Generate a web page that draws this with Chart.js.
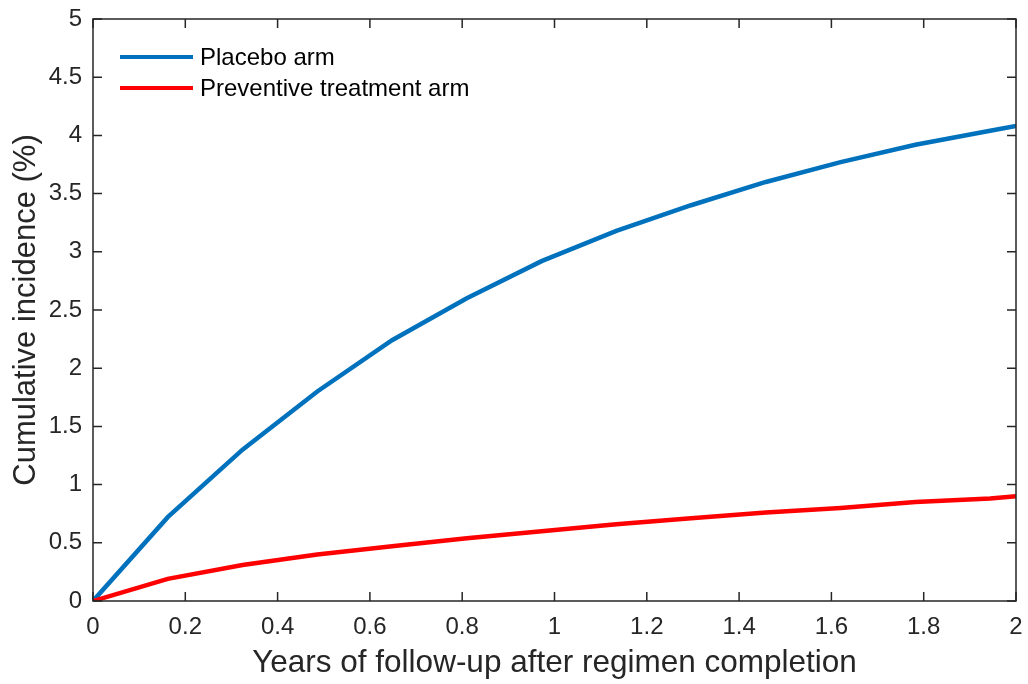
<!DOCTYPE html>
<html>
<head>
<meta charset="utf-8">
<script src="https://cdn.jsdelivr.net/npm/chart.js@4.4.1/dist/chart.umd.min.js"></script>
<style>
html,body{margin:0;padding:0;background:#fff;}
#wrap{width:1028px;height:684px;}
</style>
</head>
<body>
<div id="wrap"><canvas id="c" width="1028" height="684"></canvas></div>
<script>
const years = [0, 0.162, 0.324, 0.486, 0.648, 0.81, 0.972, 1.134, 1.296, 1.458, 1.62, 1.782, 1.944, 2.0];
const placebo = [0, 0.72, 1.30, 1.80, 2.24, 2.60, 2.92, 3.18, 3.40, 3.60, 3.77, 3.92, 4.04, 4.08];
const preventive = [0, 0.19, 0.31, 0.40, 0.47, 0.54, 0.60, 0.66, 0.71, 0.76, 0.80, 0.85, 0.88, 0.90];
const seriesLabels = ['Placebo arm', 'Preventive treatment arm'];
const seriesColors = ['#0072BD', '#FF0000'];
const xTitle = 'Years of follow-up after regimen completion';
const yTitle = 'Cumulative incidence (%)';

const AX = '#262626';
const FONT = 'Liberation Sans, Arial, Helvetica, sans-serif';

function pts(ys){ return years.map((x,i)=>({x:x,y:ys[i]})); }
function fmt(v){ return String(Number(v.toFixed(1))); }

const framePlugin = {
  id: 'frame',
  afterDatasetsDraw(chart){
    const ctx = chart.ctx, a = chart.chartArea;
    const xs = chart.scales.x, ys = chart.scales.y;
    ctx.save();
    ctx.strokeStyle = AX;
    ctx.lineWidth = 1.5;
    ctx.beginPath();
    ctx.rect(a.left, a.top, a.right - a.left, a.bottom - a.top);
    ctx.stroke();
    const tl = 9;
    ctx.lineWidth = 1.5;
    ctx.beginPath();
    xs.ticks.forEach(t=>{
      const px = xs.getPixelForValue(t.value);
      ctx.moveTo(px, a.bottom); ctx.lineTo(px, a.bottom - tl);
      ctx.moveTo(px, a.top); ctx.lineTo(px, a.top + tl);
    });
    ys.ticks.forEach(t=>{
      const py = ys.getPixelForValue(t.value);
      ctx.moveTo(a.left, py); ctx.lineTo(a.left + tl, py);
      ctx.moveTo(a.right, py); ctx.lineTo(a.right - tl, py);
    });
    ctx.stroke();
    // legend
    const lx0 = a.left + 27, lx1 = a.left + 100, ty = a.left + 107;
    const rows = [a.top + 38, a.top + 69];
    ctx.font = '24px ' + FONT;
    ctx.textBaseline = 'middle';
    ctx.textAlign = 'left';
    chart.data.datasets.forEach((ds,i)=>{
      ctx.strokeStyle = ds.borderColor;
      ctx.lineWidth = 4;
      ctx.beginPath();
      ctx.moveTo(lx0, rows[i]); ctx.lineTo(lx1, rows[i]);
      ctx.stroke();
      ctx.fillStyle = '#000';
      ctx.fillText(ds.label, ty, rows[i] + 1);
    });
    ctx.restore();
  }
};

new Chart(document.getElementById('c'), {
  type: 'line',
  data: {
    datasets: [
      {label: seriesLabels[0], data: pts(placebo), borderColor: seriesColors[0], borderWidth: 4.5, pointRadius: 0, tension: 0, fill: false, order: 2},
      {label: seriesLabels[1], data: pts(preventive), borderColor: seriesColors[1], borderWidth: 4.5, pointRadius: 0, tension: 0, fill: false, order: 1}
    ]
  },
  options: {
    responsive: false,
    animation: false,
    devicePixelRatio: 1,
    layout: {padding: {left: 0, right: 12, top: 19, bottom: 0}},
    plugins: {legend: {display: false}, tooltip: {enabled: false}},
    elements: {line: {borderCapStyle: 'butt', borderJoinStyle: 'miter'}},
    scales: {
      x: {
        type: 'linear', min: 0, max: 2,
        grid: {display: false, drawTicks: false},
        border: {display: false},
        ticks: {stepSize: 0.2, padding: 12, color: AX, font: {size: 24, family: FONT}, maxRotation: 0, callback: v=>fmt(v)},
        title: {display: true, text: xTitle, color: AX, font: {size: 31.5, family: FONT}, padding: {top: 0, bottom: 2}},
        afterFit: s=>{ s.height = 83; s.paddingLeft = 0; s.paddingRight = 0; }
      },
      y: {
        type: 'linear', min: 0, max: 5,
        grid: {display: false, drawTicks: false},
        border: {display: false},
        ticks: {stepSize: 0.5, padding: 11, color: AX, font: {size: 24, family: FONT}, callback: v=>fmt(v)},
        title: {display: true, text: yTitle, color: AX, font: {size: 31, family: FONT}, padding: {top: 8, bottom: 0}},
        afterFit: s=>{ s.width = 93; s.paddingTop = 0; s.paddingBottom = 0; }
      }
    }
  },
  plugins: [framePlugin]
});
</script>
</body>
</html>
